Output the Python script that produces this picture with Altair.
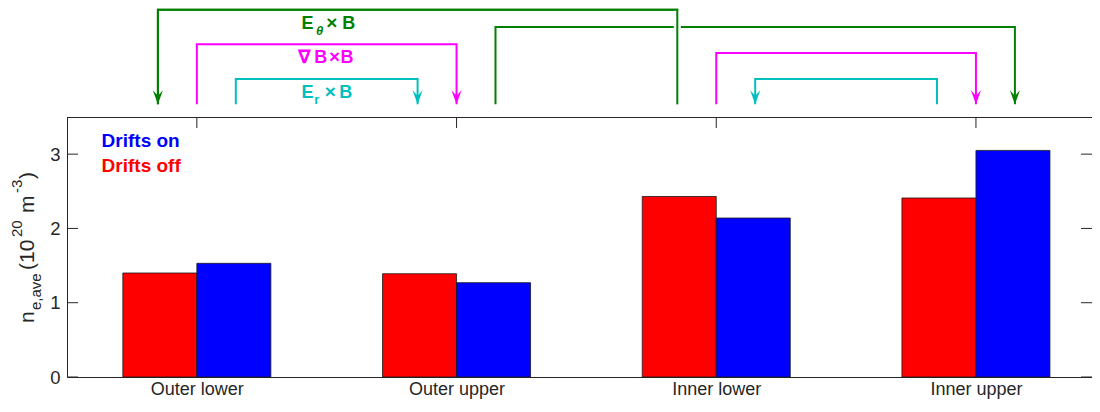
import json
import altair as alt
import pandas as pd

# ---------------- data ----------------
categories = ["Outer lower", "Outer upper", "Inner lower", "Inner upper"]
category_pos = [1, 2, 3, 4]
drifts_off = [1.40, 1.39, 2.43, 2.41]
drifts_on = [1.53, 1.27, 2.14, 3.05]
series_names = ["Drifts off", "Drifts on"]
y_ticks = [0, 1, 2, 3]

# drift arrows above the axes (x in category units, levels in y-axis units)
arrow_drift = ["ExB_theta", "ExB_theta", "gradB", "gradB", "ExB_r", "ExB_r"]
arrow_from = [2.85, 2.15, 1.00, 3.00, 1.15, 3.85]
arrow_to = [0.85, 4.15, 2.00, 4.00, 1.85, 3.15]
arrow_level = [4.945, 4.71, 4.48, 4.36, 4.01, 4.01]
arrow_base = 3.67

drift_names = ["ExB_theta", "gradB", "ExB_r"]
drift_colors = ["#008000", "#FF00FF", "#00BFBF"]

# ---------------- layout ----------------
W, H = 1025, 260
PX_PER_CAT = 259.7
XDOM = [0.5, 0.5 + W / PX_PER_CAT]
YDOM = [0, 3.5]
BAR_W = 0.285
FONT = "Liberation Sans"
AX = "#262626"

xscale = alt.Scale(domain=XDOM, nice=False, zero=False)
yscale = alt.Scale(domain=YDOM, nice=False, zero=False)

bars_df = pd.DataFrame({
    "category": categories * 2,
    "pos": category_pos * 2,
    "series": [series_names[0]] * len(categories) + [series_names[1]] * len(categories),
    "value": drifts_off + drifts_on,
})

label_expr = json.dumps(categories) + "[datum.value - 1]"

x_axis = alt.Axis(values=category_pos, labelExpr=label_expr, title=None, grid=False,
                  ticks=False, tickSize=0, domain=True, domainColor=AX, domainWidth=1,
                  labelFont=FONT, labelFontSize=18, labelColor=AX, labelPadding=3.5,
                  labelOverlap=False, labelFlush=False)
y_axis = alt.Axis(values=y_ticks, title=None, grid=False, ticks=False, tickSize=0,
                  domain=True, domainColor=AX, domainWidth=1, format="d",
                  labelFont=FONT, labelFontSize=18.5, labelColor=AX, labelPadding=7)

bars = alt.Chart(bars_df).transform_calculate(
    x0="datum.pos + (datum.series == 'Drifts off' ? -%f : 0)" % BAR_W,
    x1="datum.pos + (datum.series == 'Drifts off' ? 0 : %f)" % BAR_W,
    y0="0",
).mark_rect(stroke="#1a1a1a", strokeWidth=0.8).encode(
    x=alt.X("x0:Q", scale=xscale, axis=x_axis),
    x2="x1:Q",
    y=alt.Y("value:Q", scale=yscale, axis=y_axis),
    y2="y0:Q",
    color=alt.Color("series:N", scale=alt.Scale(domain=series_names, range=["#FF0000", "#0000FF"]),
                    legend=None),
)

# box pieces & inward ticks
ticks_df = pd.DataFrame({"v": y_ticks})
cats_df = pd.DataFrame({"pos": category_pos})
top_line = alt.Chart(cats_df).mark_rule(color=AX, strokeWidth=1).encode(
    x=alt.value(0), x2=alt.value(W), y=alt.value(0.5))
top_ticks = alt.Chart(cats_df).mark_rule(color=AX, strokeWidth=1).encode(
    x=alt.X("pos:Q", scale=xscale, axis=None), y=alt.value(0), y2=alt.value(11))
left_ticks = alt.Chart(ticks_df).mark_rule(color=AX, strokeWidth=1).encode(
    y=alt.Y("v:Q", scale=yscale, axis=None), x=alt.value(0), x2=alt.value(11))
right_ticks = alt.Chart(ticks_df).mark_rule(color=AX, strokeWidth=1).encode(
    y=alt.Y("v:Q", scale=yscale, axis=None), x=alt.value(W - 11), x2=alt.value(W))

# arrows
rows = []
for i, (d, a, b, lv) in enumerate(zip(arrow_drift, arrow_from, arrow_to, arrow_level)):
    for step, (xx, yy) in enumerate([(a, arrow_base), (a, lv), (b, lv), (b, arrow_base)]):
        rows.append({"id": i, "drift": d, "step": step, "x": xx, "y": yy})
path_df = pd.DataFrame(rows)
arrow_df = pd.DataFrame({"id": list(range(len(arrow_drift))), "drift": arrow_drift,
                         "from": arrow_from, "to": arrow_to, "level": arrow_level,
                         "base": [arrow_base] * len(arrow_drift)})
dcolor = alt.Color("drift:N", scale=alt.Scale(domain=drift_names, range=drift_colors), legend=None)

def arrow_lines(flt=None):
    c = alt.Chart(path_df)
    if flt:
        c = c.transform_filter(flt)
    return c.mark_line(strokeWidth=2, strokeJoin="miter", strokeCap="butt").encode(
        x=alt.X("x:Q", scale=xscale, axis=None),
        y=alt.Y("y:Q", scale=yscale, axis=None),
        color=dcolor, detail="id:N", order="step:Q")

halo = alt.Chart(arrow_df).transform_filter("datum.id == 0").mark_rule(
    color="white", strokeWidth=7).encode(
    x=alt.X("from:Q", scale=xscale, axis=None),
    y=alt.Y("base:Q", scale=yscale, axis=None), y2="level:Q")

head_path = "M0,0L-0.36,-1L0,-0.62L0.36,-1Z"
heads = alt.Chart(arrow_df).mark_point(shape=head_path, size=784, filled=True, opacity=1,
                                       strokeWidth=0).encode(
    x=alt.X("to:Q", scale=xscale, axis=None),
    y=alt.Y("base:Q", scale=yscale, axis=None),
    color=dcolor)

# text helpers
def px_text(t, x, y, size, color, weight="normal", angle=0, style="normal", font=FONT):
    return alt.Chart(pd.DataFrame({"t": [t]})).mark_text(
        font=font, fontSize=size, fontWeight=weight, fontStyle=style, color=color,
        align="left", baseline="alphabetic", angle=angle).encode(
        text="t:N", x=alt.value(x), y=alt.value(y))

def lab_text(t, dx, y, size, color, weight="bold", style="normal", font=FONT):
    return alt.Chart(pd.DataFrame({"t": [t], "cx": [1.5]})).mark_text(
        font=font, fontSize=size, fontWeight=weight, fontStyle=style, color=color,
        align="left", baseline="alphabetic", dx=dx).encode(
        text="t:N", x=alt.X("cx:Q", scale=xscale, axis=None), y=alt.value(y))

g, m, c = drift_colors
labels = [
    lab_text("E", -25.3, -87.7, 18, g),
    lab_text("θ", -10.7, -82, 13, g, style="italic"),
    lab_text("×", -0.5, -87.7, 19, g),
    lab_text("B", 15.5, -87.7, 18, g),
    lab_text("∇", -29, -53.7, 19, m, font="DejaVu Sans"),
    lab_text("B", -12.5, -53.7, 18, m),
    lab_text("×", 2.4, -53.7, 19, m),
    lab_text("B", 13.7, -53.7, 18, m),
    lab_text("E", -25.3, -19, 18, c),
    lab_text("r", -12.5, -13, 13, c),
    lab_text("×", -2.0, -19, 19, c),
    lab_text("B", 12.5, -19, 18, c),
]

ytitle = [
    px_text("n", -33, 206, 21, AX, angle=270),
    px_text("e,ave", -26, 193, 15, AX, angle=270),
    px_text("(10", -33, 153, 21, AX, angle=270),
    px_text("20", -45, 120, 15, AX, angle=270),
    px_text("m", -33, 96, 21, AX, angle=270),
    px_text("-3", -45, 76, 15, AX, angle=270),
    px_text(")", -33, 62, 21, AX, angle=270),
]

legend = [
    px_text("Drifts on", 34.6, 29.7, 19, "#0000FF", weight="bold"),
    px_text("Drifts off", 34.6, 54.7, 19, "#FF0000", weight="bold"),
]

chart = alt.layer(
    bars, top_line, top_ticks, left_ticks, right_ticks,
    arrow_lines(), halo, arrow_lines("datum.id == 0"), heads,
    *labels, *ytitle, *legend,
).resolve_axis(x="independent", y="independent").resolve_scale(
    color="independent"
).properties(
    width=W, height=H,
    autosize=alt.AutoSizeParams(type="none"),
    padding={"left": 59, "top": 109, "right": 0, "bottom": 22},
).configure_view(stroke=None)

chart.save("out.html", embed_options={"renderer": "svg", "actions": False})
